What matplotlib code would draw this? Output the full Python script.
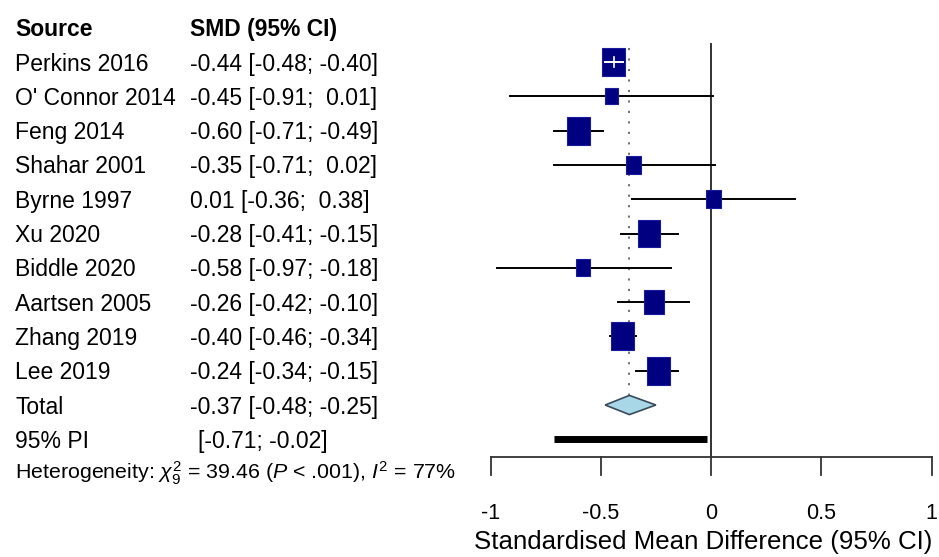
import numpy as np
import matplotlib
matplotlib.use("Agg")
import matplotlib.pyplot as plt
from matplotlib.patches import Rectangle, Polygon
from matplotlib.transforms import blended_transform_factory

# -------------------------
# Data
# -------------------------
studies = ["Perkins 2016", "O' Connor 2014", "Feng 2014", "Shahar 2001", "Byrne 1997",
           "Xu 2020", "Biddle 2020", "Aartsen 2005", "Zhang 2019", "Lee 2019"]
smd = [-0.44, -0.45, -0.60, -0.35, 0.01, -0.28, -0.58, -0.26, -0.40, -0.24]
lower = [-0.48, -0.91, -0.71, -0.71, -0.36, -0.41, -0.97, -0.42, -0.46, -0.34]
upper = [-0.40, 0.01, -0.49, 0.02, 0.38, -0.15, -0.18, -0.10, -0.34, -0.15]
weights = [13.9, 4.4, 13.9, 5.9, 5.9, 12.7, 5.1, 10.5, 13.9, 13.8]

total_smd, total_lower, total_upper = -0.37, -0.48, -0.25
pi_lower, pi_upper = -0.71, -0.02
heterogeneity = r"Heterogeneity: $\chi^2_9$ = 39.46 ($P$ < .001), $I^2$ = 77%"
x_ticks = [-1, -0.5, 0, 0.5, 1]
x_label = "Standardised Mean Difference (95% CI)"

plt.rcParams["font.family"] = ["Liberation Sans", "DejaVu Sans"]
plt.rcParams["mathtext.fontset"] = "custom"
plt.rcParams["mathtext.rm"] = "Liberation Sans"
plt.rcParams["mathtext.it"] = "Liberation Sans:italic"
plt.rcParams["mathtext.bf"] = "Liberation Sans:bold"


def fmt(v):
    return f"{v:.2f}" if v < 0 else f" {v:.2f}"


# pixel geometry: x=-1 at 491px, x=1 at 932px; row r at 62 + 34.3*r px
W, H = 939, 557
PX_PER_X = 220.5
X0 = 711
PX_PER_ROW = 34.3
Y0 = 62

fig = plt.figure(figsize=(W / 100, H / 100), dpi=100)
ax = fig.add_axes([0, 0, 1, 1])
ax.set_xlim((0 - X0) / PX_PER_X, (W - X0) / PX_PER_X)
ax.set_ylim((H - Y0) / PX_PER_ROW, (0 - Y0) / PX_PER_ROW)
ax.axis("off")

fs = 16.5
cap_off = 0.25  # half cap height in row units, to center text on the row
left = blended_transform_factory(fig.transFigure, ax.transData)
navy = "#000080"

# header
ax.text(15 / W, -1 + cap_off, "Source", transform=left, fontsize=fs, fontweight="bold", va="baseline")
ax.text(190 / W, -1 + cap_off, "SMD (95% CI)", transform=left, fontsize=fs, fontweight="bold", va="baseline")

# reference lines
ax.plot([0, 0], [-0.52, 11.52], color="#333333", lw=1.4, zorder=1)
ax.plot([total_smd, total_smd], [-0.4, 9.75], color="#666666", lw=1.3,
        dashes=(1.2, 4.6), zorder=1)

for i, name in enumerate(studies):
    ax.text(15 / W, i + cap_off, name, transform=left, fontsize=fs, va="baseline")
    ax.text(190 / W, i + cap_off, f"{smd[i]:.2f} [{lower[i]:.2f}; {fmt(upper[i])}]",
            transform=left, fontsize=fs, va="baseline")

    side_px = 23 * np.sqrt(weights[i] / max(weights))
    bw = side_px / PX_PER_X
    bh = 1.22 * side_px / PX_PER_ROW
    ax.plot([lower[i], upper[i]], [i, i], color="black", lw=1.4, zorder=2)
    ax.add_patch(Rectangle((smd[i] - bw / 2, i - bh / 2), bw, bh,
                           facecolor=navy, edgecolor="#1a1aa0", lw=0.8, zorder=3))
    if lower[i] > smd[i] - bw / 2 and upper[i] < smd[i] + bw / 2:
        ax.plot([lower[i], upper[i]], [i, i], color="white", lw=1.4, zorder=4)
        ax.plot([smd[i], smd[i]], [i - 0.15, i + 0.15], color="white", lw=1.2, zorder=4)

# total
r_tot = 10
ax.text(15 / W, r_tot + cap_off, "Total", transform=left, fontsize=fs, va="baseline")
ax.text(190 / W, r_tot + cap_off, f"{total_smd:.2f} [{total_lower:.2f}; {total_upper:.2f}]",
        transform=left, fontsize=fs, va="baseline")
ax.add_patch(Polygon([(total_lower, r_tot), (total_smd, r_tot - 0.28),
                      (total_upper, r_tot), (total_smd, r_tot + 0.28)],
                     closed=True, facecolor="#a8d8e8", edgecolor="#3a4a5a", lw=1.2, zorder=3))

# prediction interval
r_pi = 11
ax.text(15 / W, r_pi + cap_off, "95% PI", transform=left, fontsize=fs, va="baseline")
ax.text(198 / W, r_pi + cap_off, f"[{pi_lower:.2f}; {pi_upper:.2f}]",
        transform=left, fontsize=fs, va="baseline")
ax.plot([pi_lower, pi_upper], [r_pi, r_pi], color="black", lw=5, solid_capstyle="butt", zorder=3)

ax.text(15 / W, 11.92 + cap_off, heterogeneity, transform=left, fontsize=15.4, va="baseline")

# x axis
r_axis = 11.52
ax.plot([x_ticks[0], x_ticks[-1]], [r_axis, r_axis], color="#333333", lw=1.3)
for t in x_ticks:
    ax.plot([t, t], [r_axis, r_axis + 0.52], color="#333333", lw=1.3)
    ax.text(t, 13.06 + cap_off, f"{t:g}", fontsize=15.5, ha="center", va="baseline")
ax.text(-0.035, 13.95 + cap_off, x_label, fontsize=18.6, ha="center", va="baseline")

fig.savefig("out.png", dpi=100)
